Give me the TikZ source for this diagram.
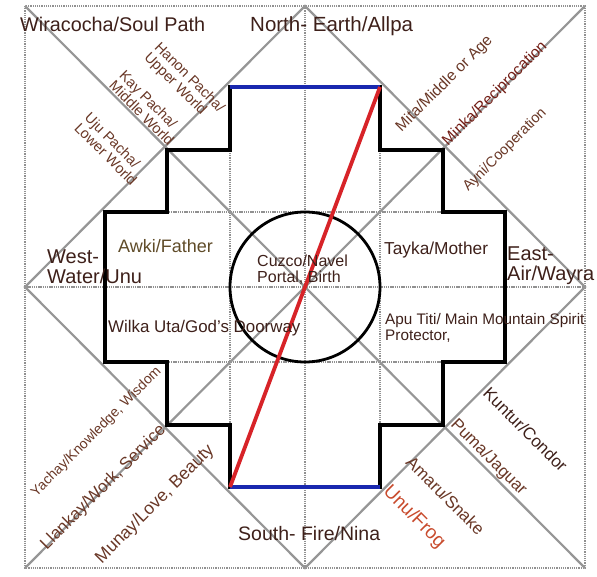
\documentclass[tikz,border=0pt]{standalone}
\usepackage{fontspec}
\setmainfont{Liberation Sans}
\definecolor{tdark}{RGB}{62,32,26}
\definecolor{tbrown}{RGB}{105,55,38}
\definecolor{tolive}{RGB}{95,75,40}
\definecolor{tred}{RGB}{115,30,22}
\definecolor{tfrog}{RGB}{200,75,45}
\definecolor{gline}{RGB}{150,150,150}
\definecolor{dline}{RGB}{145,145,145}
\definecolor{bluel}{RGB}{25,40,175}
\definecolor{redl}{RGB}{215,35,40}
\newcommand{\fsz}[1]{\fontsize{#1}{#1}\selectfont}
\begin{document}
\begin{tikzpicture}[x=1pt,y=-1pt,
  diag/.style={draw=gline,line width=2.2pt},
  dotl/.style={draw=dline,line width=2.4pt,dash pattern=on 1.3pt off 0.9pt},
  crossl/.style={draw=black,line width=3.4pt,line join=miter,line cap=rect},
  bluebar/.style={draw=bluel,line width=3.4pt},
  redbar/.style={draw=redl,line width=3.8pt},
  lbl/.style={inner sep=0pt,text=tdark},
  rlbl/.style={inner sep=0pt,text=tbrown}]
\useasboundingbox (0,0) rectangle (597,577);
% frame points
\coordinate (TL) at (25,6);
\coordinate (TR) at (585,6);
\coordinate (BR) at (585,568);
\coordinate (BL) at (25,568);
\coordinate (N) at (305,6);
\coordinate (E) at (585,287);
\coordinate (S) at (305,568);
\coordinate (W) at (25,287);
\coordinate (C) at (305,287);
% cross corners
\coordinate (c1) at (230,87);
\coordinate (c2) at (380,87);
\coordinate (c3) at (380,150);
\coordinate (c4) at (443,150);
\coordinate (c5) at (443,212);
\coordinate (c6) at (505,212);
\coordinate (c7) at (505,362);
\coordinate (c8) at (443,362);
\coordinate (c9) at (443,425);
\coordinate (c10) at (380,425);
\coordinate (c11) at (380,487);
\coordinate (c12) at (230,487);
\coordinate (c13) at (230,425);
\coordinate (c14) at (167,425);
\coordinate (c15) at (167,362);
\coordinate (c16) at (105,362);
\coordinate (c17) at (105,212);
\coordinate (c18) at (167,212);
\coordinate (c19) at (167,150);
\coordinate (c20) at (230,150);
% dotted guides
\draw[dotl] (TL) rectangle (BR);
\draw[dotl] (N) -- (S);
\draw[dotl] (W) -- (E);
\draw[dotl] (c1) -- (c12);
\draw[dotl] (c2) -- (c11);
\draw[dotl] (c17) -- (c6);
\draw[dotl] (c16) -- (c7);
% diagonals and diamond
\draw[diag] (TL) -- (BR);
\draw[diag] (TR) -- (BL);
\draw[diag] (N) -- (E) -- (S) -- (W) -- cycle;
% circle
\draw[line width=2.8pt] (C) circle[radius=75pt];
% cross
\draw[crossl] (c2) -- (c3) -- (c4) -- (c5) -- (c6) -- (c7) -- (c8) -- (c9) -- (c10) -- (c11);
\draw[crossl] (c12) -- (c13) -- (c14) -- (c15) -- (c16) -- (c17) -- (c18) -- (c19) -- (c20) -- (c1);
\draw[bluebar] (c1) -- (c2);
\draw[bluebar] (c12) -- (c11);
\draw[redbar] (c2) -- (c12);
% main labels
\node[lbl,anchor=base west,font=\fsz{19.8}] (wira) at (20,32) {Wiracocha/Soul Path};
\node[lbl,anchor=base west,font=\fsz{20.5}] (north) at (250,32) {North- Earth/Allpa};
\node[lbl,anchor=west,align=left,font=\fsz{20}] (west) at (47,267) {West-\\Water/Unu};
\node[lbl,anchor=west,align=left,font=\fsz{20}] (east) at (507,266) {East-\\Air/Wayra};
\node[lbl,anchor=base west,font=\fsz{19.5}] (south) at (238,540) {South- Fire/Nina};
\node[lbl,anchor=base west,font=\fsz{18},text=tolive] (awki) at (118,253) {Awki/Father};
\node[lbl,anchor=base west,font=\fsz{16.9}] (wilka) at (108,332) {Wilka Uta/God's Doorway};
\node[lbl,anchor=west,align=left,font=\fsz{16}] (cuzco) at (257,270) {Cuzco/Navel\\Portal, Birth};
\node[lbl,anchor=base west,font=\fsz{17.3}] (tayka) at (384,255) {Tayka/Mother};
\node[lbl,anchor=west,align=left,font=\fsz{15.3}] (apu) at (385,328) {Apu Titi/ Main Mountain Spirit\\Protector,};
% rotated labels, upper left
\node[rlbl,rotate=-45,align=left,font=\fsz{14.5}] (hanon) at (184,83) {Hanon Pacha/\\Upper World};
\node[rlbl,rotate=-45,align=left,font=\fsz{14.5}] (kay) at (147,108) {Kay Pacha/\\Middle World};
\node[rlbl,rotate=-45,align=left,font=\fsz{14.5}] (uju) at (111,149) {Uju Pacha/\\Lower World};
% upper right
\node[rlbl,rotate=45,font=\fsz{15.5}] (mita) at (444.5,84) {Mita/Middle or Age};
\node[rlbl,rotate=45,font=\fsz{15.5},text=tred] (minka) at (495,94) {Minka/Reciprocation};
\node[rlbl,rotate=45,font=\fsz{14.5}] (ayni) at (505,150) {Ayni/Cooperation};
% lower left
\node[rlbl,rotate=45,font=\fsz{14}] (yachay) at (96.5,432) {Yachay/Knowledge, Wisdom};
\node[rlbl,rotate=45,font=\fsz{17}] (llankay) at (103.5,487.5) {Llankay/Work, Service};
\node[rlbl,rotate=45,font=\fsz{17.5}] (munay) at (155,504.5) {Munay/Love, Beauty};
% lower right
\node[rlbl,rotate=-45,font=\fsz{17},text=tdark] (kuntur) at (525.5,429.5) {Kuntur/Condor};
\node[rlbl,rotate=-45,font=\fsz{16.8}] (puma) at (488.5,457.5) {Puma/Jaguar};
\node[rlbl,rotate=-45,font=\fsz{17}] (amaru) at (445.5,495.5) {Amaru/Snake};
\node[rlbl,rotate=-45,font=\fsz{19},text=tfrog] (unu) at (414,517) {Unu/Frog};
\end{tikzpicture}
\end{document}
